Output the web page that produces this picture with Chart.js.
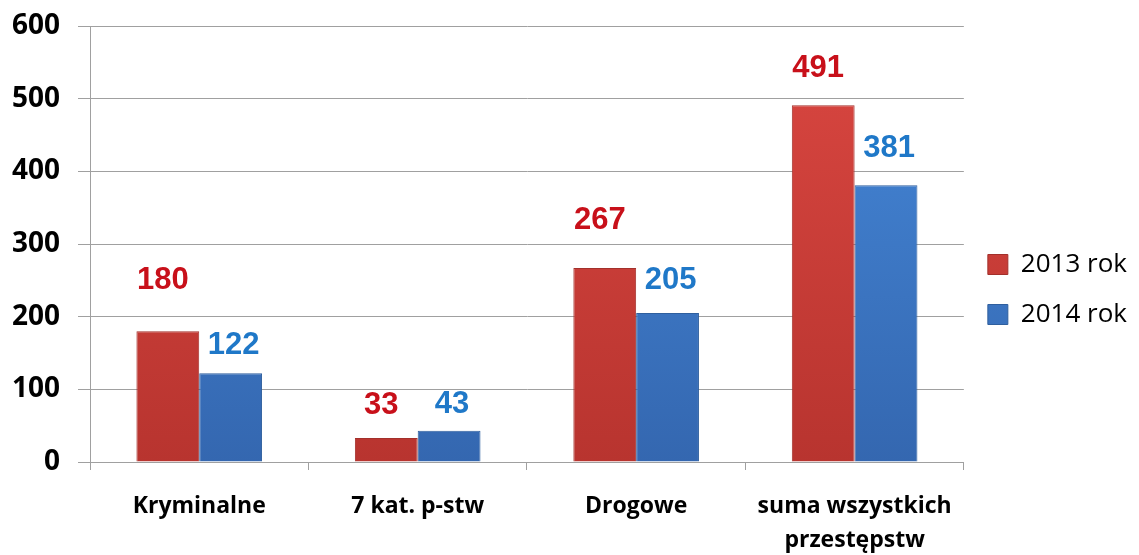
<!DOCTYPE html>
<html>
<head>
<meta charset="utf-8">
<script src="https://cdn.jsdelivr.net/npm/chart.js@4/dist/chart.umd.min.js"></script>
<style>
  html, body { margin: 0; padding: 0; background: #fff; }
  #wrap { width: 1139px; height: 555px; }
</style>
</head>
<body>
<div id="wrap"><canvas id="chart"></canvas></div>
<script>
// data
const categories = ['Kryminalne', '7 kat. p-stw', 'Drogowe', ['suma wszystkich', 'przestępstw']];
const values2013 = [180, 33, 267, 491];
const values2014 = [122, 43, 205, 381];
const seriesNames = ['2013 rok', '2014 rok'];
const yTicks = [0, 100, 200, 300, 400, 500, 600];

// value labels sit above each bar (Excel placed them by hand, so lift differs a little)
const valueLabels = {
    id: 'valueLabels',
    afterDatasetsDraw(chart, args, opts) {
        const ctx = chart.ctx;
        ctx.save();
        ctx.font = 'bold 31px "Liberation Sans", Arial, sans-serif';
        ctx.textAlign = 'center';
        ctx.textBaseline = 'middle';
        chart.data.datasets.forEach(function(ds, i) {
            const meta = chart.getDatasetMeta(i);
            ctx.fillStyle = opts.colors[i];
            meta.data.forEach(function(bar, j) {
                const lift = opts.lift[i][j];
                ctx.fillText(ds.data[j], bar.x + opts.shift[i], bar.y - lift);
            });
        });
        ctx.restore();
    }
};

// nudge the legend a little lower, like in the original
const legendShift = {
    id: 'legendShift',
    afterLayout(chart) {
        if (chart.legend) {
            chart.legend.top += 12;
            chart.legend.bottom += 12;
        }
    }
};

function barFill(top, bottom) {
    return function(context) {
        const area = context.chart.chartArea;
        if (!area) return top;
        const g = context.chart.ctx.createLinearGradient(0, area.top, 0, area.bottom);
        g.addColorStop(0, top);
        g.addColorStop(1, bottom);
        return g;
    };
}

new Chart(document.getElementById('chart'), {
    type: 'bar',
    data: {
        labels: categories,
        datasets: [{
            label: seriesNames[0],
            data: values2013,
            backgroundColor: barFill('#DA4741', '#B8342F'),
            borderColor: '#A3302B',
            borderWidth: 1,
            categoryPercentage: 0.575,
            barPercentage: 1.0
        }, {
            label: seriesNames[1],
            data: values2014,
            backgroundColor: barFill('#4689DA', '#3467B0'),
            borderColor: '#2F5F9E',
            borderWidth: 1,
            categoryPercentage: 0.575,
            barPercentage: 1.0
        }]
    },
    options: {
        responsive: true,
        maintainAspectRatio: false,
        animation: false,
        layout: { padding: { top: 0, left: 4, right: 2, bottom: 0 } },
        scales: {
            x: {
                offset: true,
                afterFit: function(axis) { axis.height = 93; },
                grid: {
                    offset: true,
                    drawOnChartArea: false,
                    drawTicks: true,
                    tickLength: 8,
                    color: '#A0A0A0'
                },
                border: { color: '#A0A0A0' },
                ticks: {
                    color: '#000',
                    padding: 19,
                    maxRotation: 0,
                    font: { family: '"Open Sans", sans-serif', weight: 'bold', size: 23, lineHeight: 1.5 }
                }
            },
            y: {
                min: 0,
                max: 600,
                afterBuildTicks: function(axis) {
                    axis.ticks = yTicks.map(function(v) { return { value: v }; });
                },
                afterFit: function(axis) {
                    axis.width = 86;
                    axis.paddingTop = 26;
                },
                grid: { color: '#A0A0A0', tickLength: 12 },
                border: { color: '#A0A0A0' },
                ticks: {
                    color: '#000',
                    padding: 18,
                    font: { family: '"Open Sans", sans-serif', weight: 'bold', size: 28 }
                }
            }
        },
        plugins: {
            legend: {
                position: 'right',
                labels: {
                    boxWidth: 20,
                    boxHeight: 20,
                    padding: 24,
                    color: '#000',
                    font: { family: '"Open Sans", sans-serif', size: 26 }
                }
            },
            tooltip: { enabled: false },
            valueLabels: {
                colors: ['#C8101A', '#1F78C8'],
                shift: [-5, 3],
                lift: [[51, 33, 48, 37], [28, 26, 33, 37]]
            }
        }
    },
    plugins: [valueLabels, legendShift]
});
</script>
</body>
</html>
